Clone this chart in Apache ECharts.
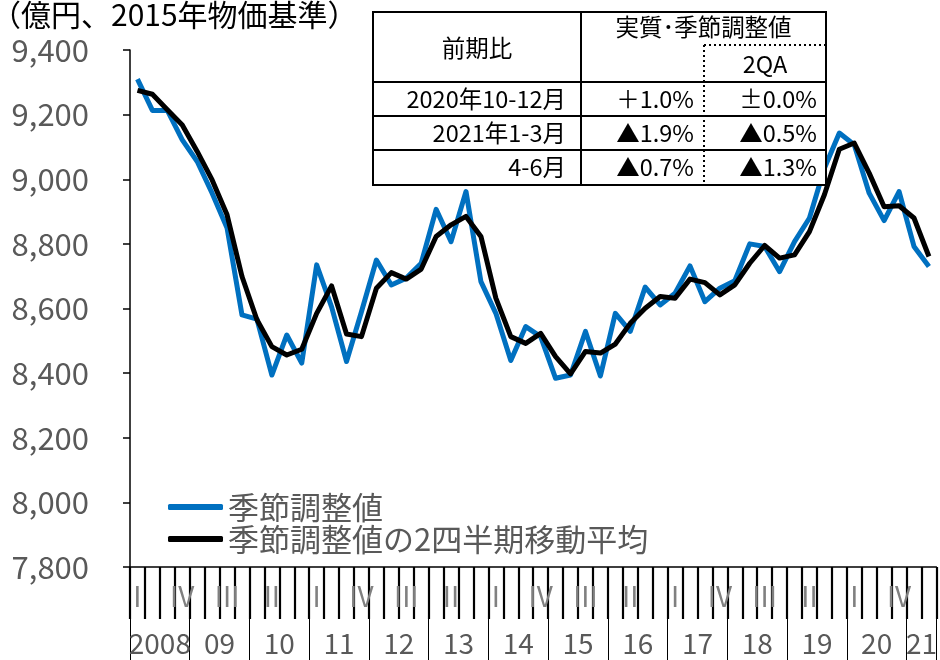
<!DOCTYPE html>
<html><head><meta charset="utf-8">
<script src="https://cdn.jsdelivr.net/npm/echarts@6/dist/echarts.min.js"></script>
<style>html,body{margin:0;padding:0;background:#fff}#c{width:940px;height:660px}</style>
</head><body><div id="c"></div>
<script>
const FONT = '"Noto Sans CJK JP", "Noto Sans", sans-serif';
const unitTitle = '（億円、2015年物価基準）';
const years = ['2008','09','10','11','12','13','14','15','16','17','18','19','20','21'];
const quarterMarks = ['I','II','III','IV'];
const legendNames = ['季節調整値','季節調整値の2四半期移動平均'];
// 2008Q1 .. 2021Q2
const seasonal = [9310,9213,9213,9122,9055,8957,8849,8580,8567,8394,8518,8431,8735,8605,8436,8590,8750,8673,8694,8740,8907,8807,8962,8683,8585,8439,8544,8513,8384,8394,8529,8391,8585,8529,8666,8611,8647,8732,8621,8663,8686,8800,8792,8714,8807,8880,9034,9143,9107,8957,8872,8962,8792,8730];
const movingAvg = [9275,9263,9215,9168,9086,8998,8890,8699,8565,8482,8456,8474,8585,8670,8521,8513,8663,8711,8691,8722,8823,8859,8885,8823,8632,8513,8492,8523,8451,8398,8467,8462,8490,8554,8601,8637,8632,8691,8680,8642,8673,8740,8795,8756,8766,8838,8952,9093,9112,9019,8915,8918,8880,8761];
const yMin = 7800, yMax = 9400, yStep = 200;
const tableHeadLeft = '前期比';
const tableHeadTop = '実質･季節調整値';
const tableHeadSub = '2QA';
const tableRows = ['2020年10-12月','2021年1-3月','4-6月'];
const tableQoQ = ['＋1.0%','▲1.9%','▲0.7%'];
const table2QA = ['±0.0%','▲0.5%','▲1.3%'];

const categories = [];
for (let y = 0; y < years.length; y++) {
  for (let q = 0; q < 4; q++) {
    if (categories.length < seasonal.length) categories.push(years[y] + 'Q' + (q + 1));
  }
}
const nQ = categories.length;

function txt(text, x, y, align, size) {
  const s = size || 23.5;
  return { type: 'text', z: 100, style: { text: text, x: x, y: y, fill: '#000',
    font: s + 'px ' + FONT, fontSize: s, fontFamily: FONT,
    align: align, textAlign: align, verticalAlign: 'middle', textVerticalAlign: 'middle' } };
}
function ln(x1, y1, x2, y2, dash) {
  return { type: 'line', z: 100, shape: { x1: x1, y1: y1, x2: x2, y2: y2 },
    style: { stroke: '#000', lineWidth: 2, lineDash: dash ? [2, 3] : null } };
}
const T = { l: 373, r: 826, t: 12, b: 185, c1: 581, c2: 704, rows: [82, 116, 150, 185] };
const graphics = [
  { type: 'rect', z: 99, shape: { x: T.l, y: T.t, width: T.r - T.l, height: T.b - T.t },
    style: { fill: '#fff', stroke: '#000', lineWidth: 2 } },
  ln(T.l, T.rows[0], T.r, T.rows[0]),
  ln(T.l, T.rows[1], T.r, T.rows[1]),
  ln(T.l, T.rows[2], T.r, T.rows[2]),
  ln(T.c1, T.t, T.c1, T.b),
  ln(T.c2, 45, T.c2, T.b, true),
  ln(T.c2, 45, T.r, 45, true),
  txt(tableHeadTop, (T.c1 + T.r) / 2, 27, 'center'),
  txt(tableHeadLeft, (T.l + T.c1) / 2, 48, 'center'),
  txt(tableHeadSub, (T.c2 + T.r) / 2, 64, 'center')
];
for (let i = 0; i < tableRows.length; i++) {
  const cy = (T.rows[i] + T.rows[i + 1]) / 2;
  graphics.push(txt(tableRows[i], 566, cy, 'right'));
  graphics.push(txt(tableQoQ[i], 694, cy, 'right'));
  graphics.push(txt(table2QA[i], 817, cy, 'right'));
}

const chart = echarts.init(document.getElementById('c'));
chart.setOption({
  animation: false,
  backgroundColor: '#fff',
  textStyle: { fontFamily: FONT },
  title: { text: unitTitle, left: -9, top: 0, padding: 0,
    textStyle: { fontSize: 30, fontWeight: 'normal', color: '#000', fontFamily: FONT } },
  legend: {
    orient: 'vertical', left: 168, top: 491, itemWidth: 55, itemHeight: 6, itemGap: 0,
    icon: 'roundRect', padding: 0,
    textStyle: { fontSize: 31, color: '#595959', lineHeight: 32, fontFamily: FONT },
    data: legendNames
  },
  grid: { left: 130, top: 50, width: 812, bottom: 93 },
  xAxis: [
    { type: 'category', data: categories, boundaryGap: true, position: 'bottom',
      axisLine: { show: true, lineStyle: { color: '#000', width: 1.5 } },
      axisTick: { show: true, interval: 0, length: 52, lineStyle: { color: '#000', width: 2.2 } },
      axisLabel: { interval: function (i) { return i % 3 === 0; },
        formatter: function (v, i) { return quarterMarks[i % 4]; },
        fontSize: 28, color: '#808080', margin: 15, fontFamily: FONT } },
    { type: 'value', min: 0, max: nQ, interval: 1, position: 'bottom',
      axisLine: { show: false }, axisTick: { show: false }, splitLine: { show: false },
      axisLabel: { fontSize: 28, color: '#595959', margin: 62, fontFamily: FONT,
        showMinLabel: true, showMaxLabel: true,
        formatter: function (v) {
          const yi = Math.floor(v / 4);
          const qInYear = Math.min(4, nQ - yi * 4);
          if (qInYear === 4 && v % 4 === 2) return years[yi];
          if (qInYear < 4 && v === yi * 4 + qInYear / 2) return years[yi];
          return '';
        } } },
    { type: 'value', min: 0, max: nQ, interval: 4, position: 'bottom',
      axisLine: { show: false }, splitLine: { show: false }, axisLabel: { show: false },
      axisTick: { show: true, length: 93, lineStyle: { color: '#000', width: 1 } } }
  ],
  yAxis: {
    type: 'value', min: yMin, max: yMax, interval: yStep,
    axisLine: { show: true, lineStyle: { color: '#000', width: 1.5 } },
    axisTick: { show: true, length: 7, lineStyle: { color: '#000', width: 1.5 } },
    splitLine: { show: false },
    axisLabel: { fontSize: 31, color: '#595959', margin: 41, fontFamily: FONT,
      formatter: function (v) { return v.toLocaleString('en-US'); } }
  },
  series: [
    { name: legendNames[0], type: 'line', data: seasonal, showSymbol: false, symbol: 'none',
      itemStyle: { color: '#0070C0' },
      lineStyle: { color: '#0070C0', width: 5, join: 'round' }, z: 2 },
    { name: legendNames[1], type: 'line', data: movingAvg, showSymbol: false, symbol: 'none',
      itemStyle: { color: '#000' },
      lineStyle: { color: '#000', width: 5, join: 'round' }, z: 3 }
  ],
  graphic: graphics
});
</script></body></html>
